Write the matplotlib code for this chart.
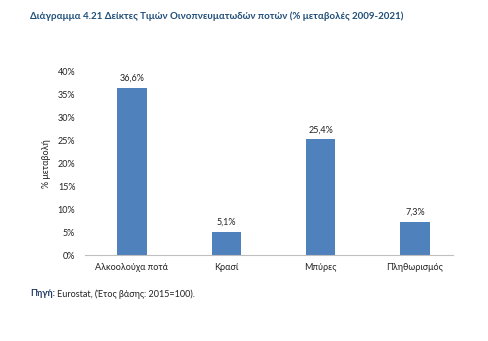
import matplotlib
matplotlib.use("Agg")
import matplotlib.pyplot as plt
from matplotlib.ticker import FuncFormatter

categories = ["Αλκοολούχα ποτά", "Κρασί", "Μπύρες", "Πληθωρισμός"]
values = [36.6, 5.1, 25.4, 7.3]
labels = ["36,6%", "5,1%", "25,4%", "7,3%"]

plt.rcParams['font.family'] = ['Lato', 'DejaVu Sans']

fig = plt.figure(figsize=(4.89, 3.41), dpi=100)
ax = fig.add_axes([85/489, 0.252, 368/489, 0.537])
x = range(len(categories))
bars = ax.bar(x, values, width=0.31, color="#4F81BD")
for xi, v, lab in zip(x, values, labels):
    ax.text(xi, v + 1.0, lab, ha="center", va="bottom", fontsize=6.5, color="#222222")
ax.set_xlim(-0.498, 3.403)
ax.set_ylim(0, 40)
ax.set_yticks(range(0, 41, 5))
ax.yaxis.set_major_formatter(FuncFormatter(lambda v, p: f"{int(v)}%"))
ax.set_xticks(list(x))
ax.set_xticklabels(categories)
ax.tick_params(axis="both", length=0, labelsize=6.5, colors="#222222")
ax.tick_params(axis="y", pad=7)
ax.tick_params(axis="x", pad=6)
for s in ["top", "right", "left"]:
    ax.spines[s].set_visible(False)
ax.spines["bottom"].set_color("#BFBFBF")
ax.spines["bottom"].set_linewidth(0.8)
ax.set_ylabel("% μεταβολή", fontsize=6.5, color="#222222", labelpad=5)

fig.text(30/489, 1 - 16/341, "Διάγραμμα 4.21 Δείκτες Τιμών Οινοπνευματωδών ποτών (% μεταβολές 2009-2021)",
         fontsize=7, fontweight="bold", color="#1F4E79", va="center", ha="left")
t = fig.text(30/489, 1 - 294/341, "Πηγή:", fontsize=6.5, fontweight="bold", color="#1F3864", va="center", ha="left")
fig.canvas.draw()
bb = t.get_window_extent()
fig.text(bb.x1/489 + 0.004, 1 - 294/341, "Eurostat, (Έτος βάσης: 2015=100).", fontsize=6.5, color="#222222", va="center", ha="left")

fig.savefig("out.png", dpi=100, facecolor="white")
